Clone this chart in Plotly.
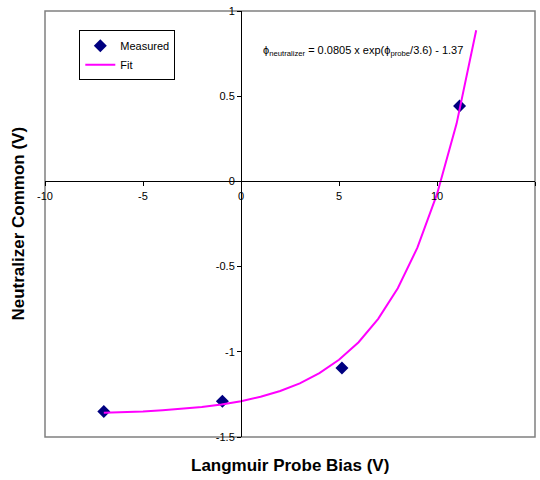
import plotly.graph_objects as go

# Measured data
meas_x = [-7.0, -0.95, 5.15, 11.15]
meas_y = [-1.35, -1.29, -1.095, 0.443]

# Fit curve points
fit_x = [-7, -6, -5, -4, -3, -2, -1, 0, 1, 2, 3, 4, 5, 6, 7, 8, 9, 10, 11, 12]
fit_y = [-1.358, -1.355, -1.350, -1.343, -1.335, -1.324, -1.309, -1.290, -1.264,
         -1.230, -1.185, -1.125, -1.047, -0.944, -0.807, -0.627, -0.389, -0.075,
         0.339, 0.887]

x_ticks = [-10, -5, 0, 5, 10, 15]
y_ticks = [-1.5, -1, -0.5, 0, 0.5, 1]

fig = go.Figure()
fig.add_trace(go.Scatter(x=meas_x, y=meas_y, mode="markers", name="Measured",
                         marker=dict(symbol="diamond", size=10, color="#000080")))
fig.add_trace(go.Scatter(x=fit_x, y=fit_y, mode="lines", name="Fit",
                         line=dict(color="#FF00FF", width=2)))

font = dict(family="Arial, Liberation Sans, sans-serif", size=11, color="black")
title_font = dict(family="Arial, Liberation Sans, sans-serif", size=17, color="black")

fig.update_layout(
    width=540, height=480,
    margin=dict(l=45, r=5, t=7, b=43),
    plot_bgcolor="white", paper_bgcolor="white",
    font=font,
    showlegend=True,
    legend=dict(x=0.07, y=0.955, xanchor="left", yanchor="top",
                bordercolor="black", borderwidth=1, bgcolor="white",
                font=dict(family="Arial, Liberation Sans, sans-serif", size=11, color="black"),
                tracegroupgap=0, itemwidth=30),
    xaxis=dict(range=[-10, 15], tickvals=x_ticks, ticktext=[str(v) for v in x_ticks],
               showgrid=False, zeroline=False, showline=True, linecolor="black", linewidth=1,
               ticks="outside", ticklen=4, tickcolor="black",
               anchor="free", position=0.6, tickfont=font),
    yaxis=dict(range=[-1.5, 1], tickvals=y_ticks, ticktext=[str(v) for v in y_ticks],
               showgrid=False, zeroline=False, showline=True, linecolor="black", linewidth=1,
               ticks="outside", ticklen=4, tickcolor="black",
               anchor="free", position=0.4, tickfont=font),
    shapes=[dict(type="rect", xref="paper", yref="paper", x0=0, x1=1, y0=0, y1=1,
                 line=dict(color="#808080", width=1.5), layer="below")],
    annotations=[
        dict(text="<b>Langmuir Probe Bias (V)</b>", xref="paper", yref="paper",
             x=0.5, y=-0.068, yanchor="middle", showarrow=False, font=title_font),
        dict(text="<b>Neutralizer Common (V)</b>", xref="paper", yref="paper",
             x=-0.056, y=0.5, xanchor="center", yanchor="middle", textangle=-90,
             showarrow=False, font=title_font),
        dict(text="ϕ<sub>neutralizer</sub> = 0.0805 x exp(ϕ<sub>probe</sub>/3.6) - 1.37",
             xref="paper", yref="paper", x=0.44, y=0.905, xanchor="left", yanchor="middle",
             showarrow=False,
             font=dict(family="Arial, Liberation Sans, sans-serif", size=11, color="black")),
    ],
)

fig.write_html("out.html")
